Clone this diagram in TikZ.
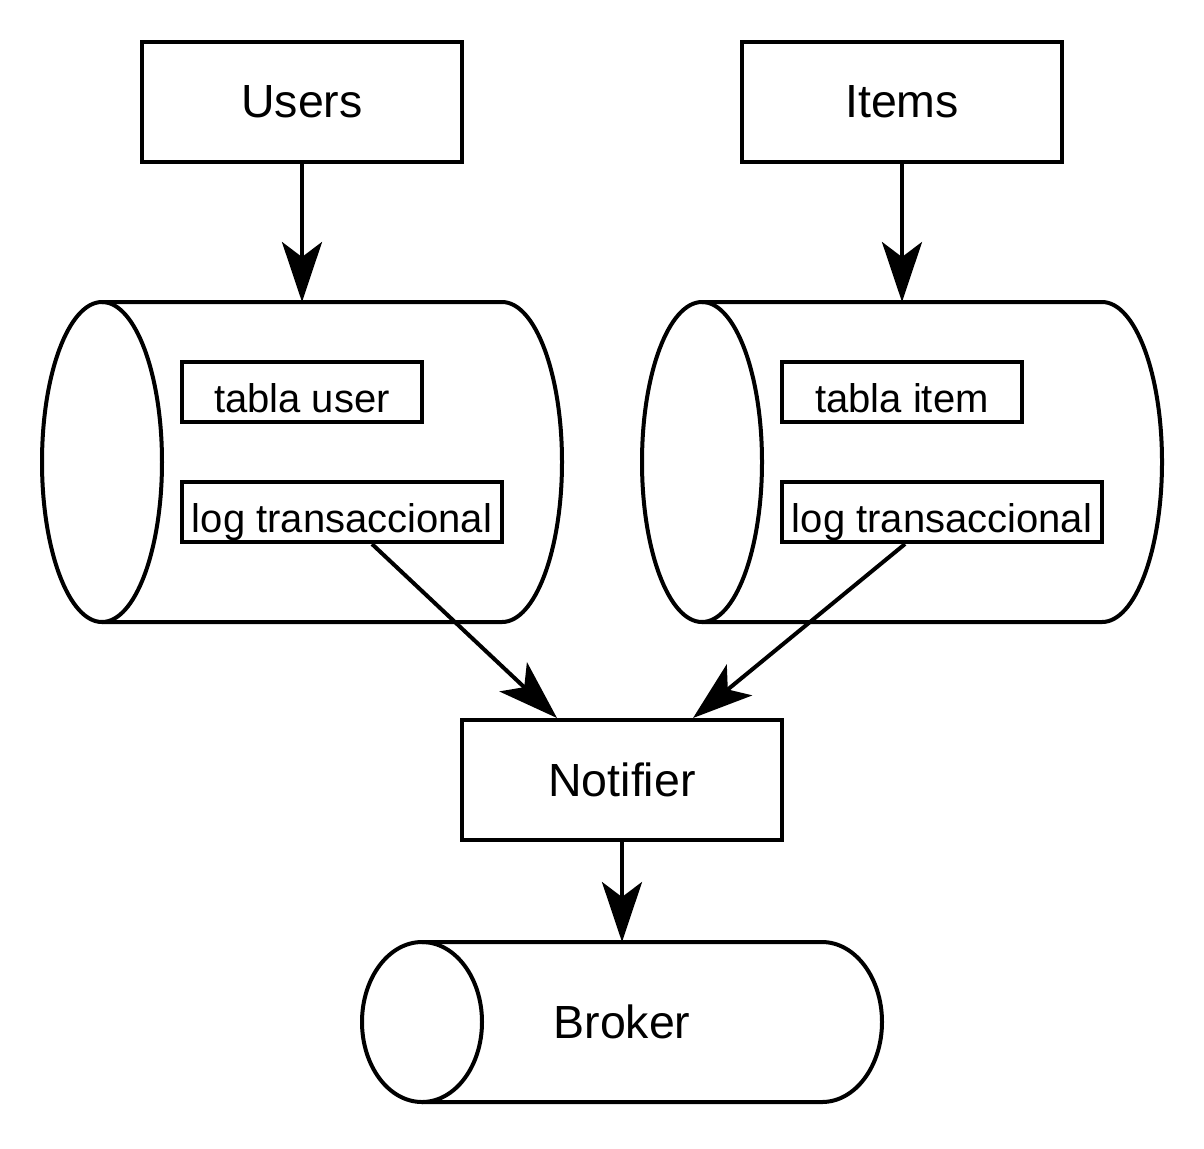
\documentclass[tikz,border=0pt]{standalone}
\usepackage{fontspec}
\setmainfont{Liberation Sans}
\usetikzlibrary{arrows.meta}
\tikzstyle{block}=[rectangle,draw,line width=2pt,minimum width=160pt,minimum height=60pt,inner sep=0pt,font=\fontsize{23.25}{28}\selectfont]
\tikzstyle{tbl}=[rectangle,draw,line width=2pt,minimum height=30pt,inner sep=0pt,text height=20pt,text depth=0pt,font=\fontsize{20}{24}\selectfont]
\tikzstyle{drum}=[rectangle,minimum width=260pt,inner sep=0pt,outer sep=0pt,font=\fontsize{23.25}{28}\selectfont]
\tikzstyle{outline}=[draw,line width=2pt]
\tikzstyle{edge}=[draw,line width=2pt,-{Stealth[length=30pt,width=20pt,inset=7.5pt]}]

\begin{document}
\begin{tikzpicture}[x=0.5pt,y=-0.5pt]
    \useasboundingbox (0,0) rectangle (1204,1148);

    \foreach \pos/ \name/ \txt in {{(302,102)/users/Users}, {(902,102)/items/Items}}
        \node[block] (\name) at \pos {\txt};

    % databases
    \foreach \pos/ \name in {{(302,462)/dbu}, {(902,462)/dbi}}
        \node[drum,minimum height=160pt] (\name) at \pos {};
    \node[drum,minimum height=80pt] (broker) at (622,1022) {Broker};

    \foreach \name/ \ry in {dbu/80pt, dbi/80pt, broker/40pt} {
        \path[outline] ([xshift=30pt]\name.north west) -- ([xshift=-30pt]\name.north east)
            arc[start angle=90,end angle=-90,x radius=30pt,y radius=\ry] -- ([xshift=30pt]\name.south west);
        \path[outline] ([xshift=30pt]\name.west) ellipse[x radius=30pt,y radius=\ry];
    }

    \node[tbl,minimum width=120pt] (tabu) at (302,392) {tabla user};
    \node[tbl,minimum width=160pt] (logu) at (342,512) {log transaccional};
    \node[tbl,minimum width=120pt] (tabi) at (902,392) {tabla item};
    \node[tbl,minimum width=160pt] (logi) at (942,512) {log transaccional};

    \node[block] (notif) at (622,780) {Notifier};

    % Connect
    \foreach \source/ \dest in {users/dbu, items/dbi, notif/broker}
        \path[edge] (\source) -- (\dest);
    \path[edge] ([xshift=15pt]logu.south) -- ([xshift=-32.5pt]notif.north);
    \path[edge] ([xshift=-18.5pt]logi.south) -- ([xshift=35.5pt]notif.north);

\end{tikzpicture}
\end{document}
